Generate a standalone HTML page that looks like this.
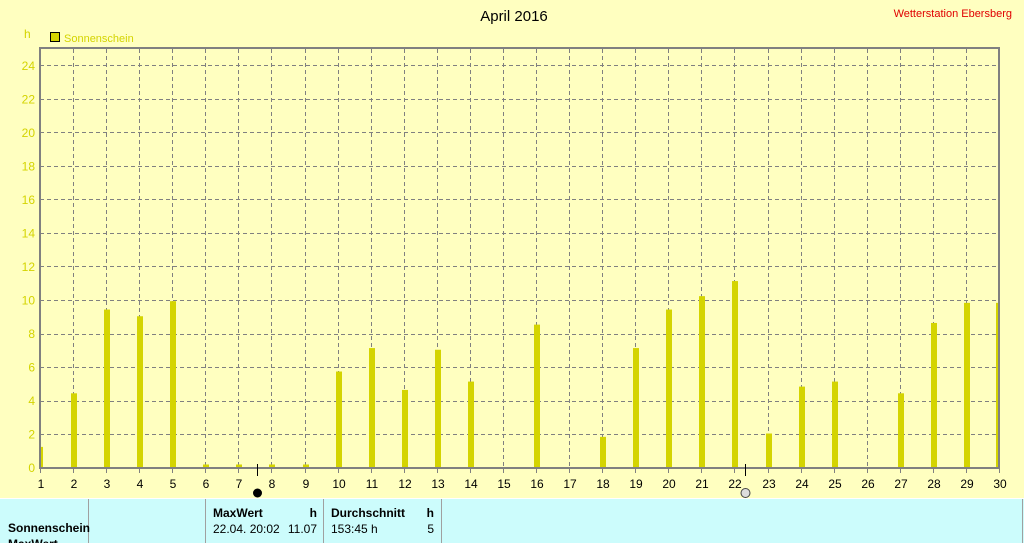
<!DOCTYPE html>
<html><head><meta charset="utf-8"><style>
body{margin:0;width:1024px;height:543px;overflow:hidden;background:#ffffc0;font-family:"Liberation Sans",sans-serif}
svg{position:absolute;left:0;top:0}
</style></head><body>
<svg width="1024" height="543" xmlns="http://www.w3.org/2000/svg" font-family="Liberation Sans, sans-serif">
<rect width="1024" height="543" fill="#ffffc0"/>
<text x="514" y="21" font-size="15" text-anchor="middle" fill="#000">April 2016</text>
<text x="1012" y="17" font-size="11" text-anchor="end" fill="#e00000">Wetterstation Ebersberg</text>
<text x="24" y="38" font-size="12" fill="#d4d400">h</text>
<rect x="50.5" y="32.5" width="9" height="9" fill="#d4d400" stroke="#000"/>
<text x="64" y="42" font-size="11" fill="#d4d400">Sonnenschein</text>
<g stroke="#808080" stroke-dasharray="4,3" stroke-width="1">
<path d="M40 65.5H1000M40 99.5H1000M40 132.5H1000M40 166.5H1000M40 199.5H1000M40 233.5H1000M40 266.5H1000M40 300.5H1000M40 334.5H1000M40 367.5H1000M40 401.5H1000M40 434.5H1000"/>
</g>
<g id="vlines" stroke="#808080" stroke-dasharray="4,3"></g>
<g id="bars" fill="#d4d400"></g>
<g stroke="#808080" stroke-width="2" fill="none"><path d="M40 468V48H999V468"/></g>
<line x1="39" y1="468" x2="1000" y2="468" stroke="#808080" stroke-width="2"/>
<g id="ticks" font-size="12" fill="#000" text-anchor="middle"></g>
<g id="yl" font-size="12" fill="#d4d400" text-anchor="end"></g>
<line x1="257.5" y1="464" x2="257.5" y2="476" stroke="#000"/>
<circle cx="257.5" cy="493" r="4.5" fill="#000"/>
<line x1="745.5" y1="464" x2="745.5" y2="476" stroke="#000"/>
<circle cx="745.5" cy="493" r="4.5" fill="#ddd" stroke="#444"/>
<rect x="0" y="498" width="1024" height="45" fill="#ccfcfc"/>
<line x1="0" y1="498.5" x2="1024" y2="498.5" stroke="#fff"/>
<g stroke="#a0a0a0" stroke-width="1"><path d="M88.5 499V543M205.5 499V543M323.5 499V543M441.5 499V543M1022.5 499V543"/></g>
<g font-size="12" fill="#000">
<text x="8" y="532" font-weight="bold">Sonnenschein</text>
<text x="8" y="548" font-weight="bold">MaxWert</text>
<text x="213" y="517" font-weight="bold">MaxWert</text><text x="317" y="517" font-weight="bold" text-anchor="end">h</text>
<text x="213" y="533">22.04.  20:02</text><text x="317" y="533" text-anchor="end">11.07</text>
<text x="331" y="517" font-weight="bold">Durchschnitt</text><text x="434" y="517" font-weight="bold" text-anchor="end">h</text>
<text x="331" y="533">153:45 h</text><text x="434" y="533" text-anchor="end">5</text>
</g>
</svg>
<script>
var ns="http://www.w3.org/2000/svg";
function X(d){return 40+(d-1)*959/29;}
var vl=document.getElementById("vlines"),bars=document.getElementById("bars"),tk=document.getElementById("ticks"),yl=document.getElementById("yl");
var v={1:1.2,2:4.4,3:9.4,4:9.0,5:9.9,6:.15,7:.15,8:.15,9:.15,10:5.7,11:7.1,12:4.6,13:7.0,14:5.1,16:8.5,18:1.8,19:7.1,20:9.4,21:10.2,22:11.1,23:2.0,24:4.8,25:5.1,27:4.4,28:8.6,29:9.8,30:9.8};
for(var d=1;d<=30;d++){var x=Math.round(X(d));
 if(d>1&&d<30){var l=document.createElementNS(ns,"line");l.setAttribute("x1",x+.5);l.setAttribute("x2",x+.5);l.setAttribute("y1",49);l.setAttribute("y2",467);vl.appendChild(l);}
 var t=document.createElementNS(ns,"text");t.setAttribute("x",x+1);t.setAttribute("y",488);t.textContent=d;tk.appendChild(t);
 var tl=document.createElementNS(ns,"line");tl.setAttribute("x1",x+.5);tl.setAttribute("x2",x+.5);tl.setAttribute("y1",468);tl.setAttribute("y2",473);tl.setAttribute("stroke","#808080");tk.appendChild(tl);
 if(v[d]){var h=v[d]*16.75;var r=document.createElementNS(ns,"rect");var x0=x-2,w=6;if(d==1){x0=40;w=3;}if(d==30){x0=996;w=3;}
 r.setAttribute("x",x0);r.setAttribute("y",467-h);r.setAttribute("width",w);r.setAttribute("height",h);bars.appendChild(r);}
}
for(var k=0;k<=24;k+=2){var t=document.createElementNS(ns,"text");t.setAttribute("x",35);t.setAttribute("y",472-k*16.75);t.textContent=k;yl.appendChild(t);}
</script>
</body></html>
